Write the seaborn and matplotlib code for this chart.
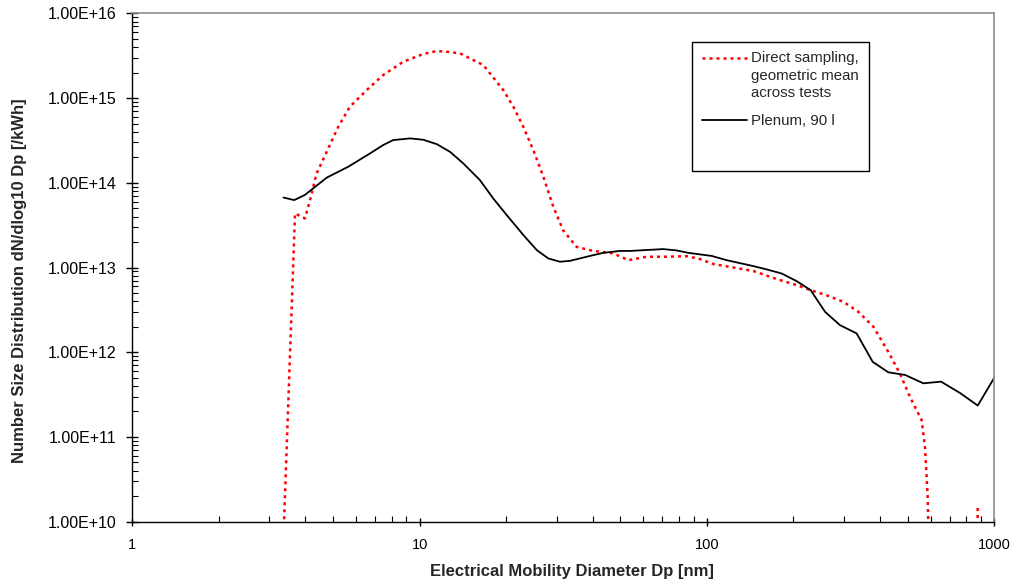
import numpy as np
import pandas as pd
import matplotlib
matplotlib.use("Agg")
import matplotlib.pyplot as plt
import seaborn as sns
from matplotlib.patches import Rectangle
from matplotlib.lines import Line2D
from matplotlib.ticker import LogLocator, FixedLocator, FixedFormatter, NullFormatter

# ---- data ----
direct_d = [3.35, 3.685, 3.99, 4.155, 4.38, 4.75, 5.21, 5.72, 6.54, 7.47, 8.78, 10.3,
            11.47, 12.43, 13.82, 14.97, 16.67, 19.56, 21.2, 22.96, 24.87, 26.96, 29.2,
            31.6, 35.2, 40.2, 47.2, 53.3, 61.7, 70.5, 85.1, 94.6, 105.2, 123.6, 145,
            175, 205.4, 229.7, 261, 298.5, 336.5, 379.6, 427.8, 469.6, 508.9, 559,
            574, 586, 610]
direct_n = [5e9, 4.35e13, 3.8e13, 6.25e13, 1.29e14, 2.32e14, 4.58e14, 7.9e14, 1.24e15,
            1.87e15, 2.69e15, 3.31e15, 3.59e15, 3.52e15, 3.37e15, 2.94e15, 2.45e15,
            1.24e15, 7.9e14, 4.58e14, 2.43e14, 1.18e14, 5.2e13, 2.75e13, 1.75e13,
            1.57e13, 1.47e13, 1.22e13, 1.34e13, 1.34e13, 1.36e13, 1.26e13, 1.10e13,
            1.0e13, 9.1e12, 7.3e12, 6.2e12, 5.4e12, 4.7e12, 3.94e12, 3.0e12, 2.0e12,
            1.01e12, 5.6e11, 2.97e11, 1.58e11, 7.6e10, 2.1e10, 1e8]
direct_tail_d = [865, 876]
direct_tail_n = [1e8, 1.57e10]

plenum_d = [3.36, 3.66, 3.99, 4.75, 5.65, 6.72, 7.47, 8.09, 9.26, 10.3, 11.47, 12.76,
            14.2, 16.2, 18.06, 20.1, 22.96, 25.6, 28.05, 30.8, 33.4, 40.2, 43.6, 49.8,
            54, 70.5, 78.5, 86.2, 103.9, 117.2, 145, 161.4, 182, 205.4, 229.7, 257.7,
            290.4, 331.8, 377.6, 427.8, 489.3, 566.6, 652.9, 760.7, 876, 1000]
plenum_n = [6.7e13, 6.25e13, 7.2e13, 1.15e14, 1.55e14, 2.22e14, 2.79e14, 3.19e14,
            3.34e14, 3.22e14, 2.86e14, 2.32e14, 1.69e14, 1.08e14, 6.5e13, 4.16e13,
            2.42e13, 1.6e13, 1.28e13, 1.17e13, 1.2e13, 1.4e13, 1.49e13, 1.57e13,
            1.57e13, 1.65e13, 1.59e13, 1.49e13, 1.37e13, 1.22e13, 1.04e13, 9.5e12,
            8.5e12, 6.9e12, 5.4e12, 3.0e12, 2.09e12, 1.67e12, 7.7e11, 5.8e11, 5.4e11,
            4.3e11, 4.5e11, 3.3e11, 2.35e11, 5.0e11]

label_direct = "Direct sampling,\ngeometric mean\nacross tests"
label_plenum = "Plenum, 90 l"
x_ticks = [1, 10, 100, 1000]
x_ticklabels = ["1", "10", "100", "1000"]
y_ticks = [1e10, 1e11, 1e12, 1e13, 1e14, 1e15, 1e16]
y_ticklabels = ["1.00E+10", "1.00E+11", "1.00E+12", "1.00E+13", "1.00E+14",
                "1.00E+15", "1.00E+16"]
x_title = "Electrical Mobility Diameter Dp [nm]"
y_title = "Number Size Distribution dN/dlog10 Dp [/kWh]"

# ---- style ----
sns.set_style("white")
plt.rcParams["font.family"] = ["Liberation Sans", "DejaVu Sans"]

fig = plt.figure(figsize=(10.16, 5.87), dpi=100)
ax = fig.add_axes([0.1302, 0.1112, 0.8484, 0.8661])

df_direct = pd.DataFrame({"d": direct_d, "n": direct_n})
df_tail = pd.DataFrame({"d": direct_tail_d, "n": direct_tail_n})
df_plenum = pd.DataFrame({"d": plenum_d, "n": plenum_n})

red_style = dict(color="#ff0000", linewidth=1.8, linestyle=(0, (1.2, 1.6)))
black_style = dict(color="black", linewidth=1.3)
sns.lineplot(data=df_direct, x="d", y="n", ax=ax, sort=False, legend=False, **red_style)
sns.lineplot(data=df_tail, x="d", y="n", ax=ax, sort=False, legend=False, **red_style)
sns.lineplot(data=df_plenum, x="d", y="n", ax=ax, sort=False, legend=False, **black_style)

ax.set_xscale("log")
ax.set_yscale("log")
ax.set_xlim(1, 1000)
ax.set_ylim(1e10, 1e16)

ax.xaxis.set_major_locator(FixedLocator(x_ticks))
ax.xaxis.set_major_formatter(FixedFormatter(x_ticklabels))
ax.yaxis.set_major_locator(FixedLocator(y_ticks))
ax.yaxis.set_major_formatter(FixedFormatter(y_ticklabels))
ax.xaxis.set_minor_locator(LogLocator(base=10, subs=np.arange(2, 10), numticks=20))
ax.yaxis.set_minor_locator(LogLocator(base=10, subs=np.arange(2, 10), numticks=20))
ax.xaxis.set_minor_formatter(NullFormatter())
ax.yaxis.set_minor_formatter(NullFormatter())

ax.tick_params(axis="y", which="major", direction="inout", length=8.5, width=1,
               color="black", labelsize=11.5, labelcolor="black", pad=7,
               left=True, right=False)
ax.tick_params(axis="x", which="major", direction="inout", length=6, width=1,
               color="black", labelsize=10.5, labelcolor="black", pad=9,
               bottom=True, top=False)
ax.tick_params(which="minor", direction="in", length=4, width=0.8, color="black",
               bottom=True, left=True, top=False, right=False)

for s in ["left", "bottom"]:
    ax.spines[s].set_color("black")
    ax.spines[s].set_linewidth(1.0)
for s in ["top", "right"]:
    ax.spines[s].set_color("#8c8c8c")
    ax.spines[s].set_linewidth(1.2)

ax.set_xlabel(x_title, fontsize=12, fontweight="bold")
ax.set_ylabel(y_title, fontsize=12, fontweight="bold")
ax.xaxis.set_label_coords(0.5095, -0.083)
ax.yaxis.set_label_coords(-0.122, 0.475)

# legend: square frame with extra space below, red handle aligned with first line
ax.add_patch(Rectangle((0.6493, 0.6898), 0.2056, 0.2538, transform=ax.transAxes,
                       facecolor="white", edgecolor="black", linewidth=1.0, zorder=4))
ax.add_line(Line2D([0.6606, 0.7128], [0.9127, 0.9127], transform=ax.transAxes,
                   zorder=5, **red_style))
ax.add_line(Line2D([0.6606, 0.7128], [0.7901, 0.7901], transform=ax.transAxes,
                   zorder=5, **black_style))
ax.text(0.7177, 0.8777, label_direct, transform=ax.transAxes, fontsize=10.8,
        va="center", ha="left", linespacing=1.28, zorder=5)
ax.text(0.7177, 0.7885, label_plenum, transform=ax.transAxes, fontsize=10.8,
        va="center", ha="left", zorder=5)

fig.savefig("out.png", dpi=100)
